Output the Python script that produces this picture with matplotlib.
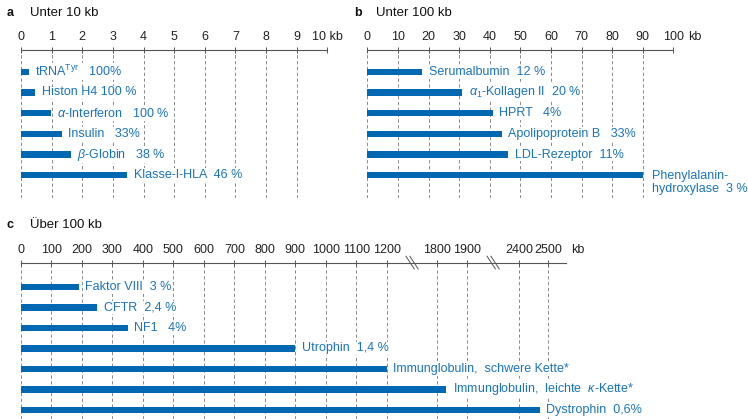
import numpy as np
import matplotlib
matplotlib.use('Agg')
import matplotlib.pyplot as plt
from matplotlib.transforms import Affine2D, ScaledTranslation
from matplotlib.lines import Line2D

plt.rcParams['font.family'] = ['Liberation Sans', 'DejaVu Sans']
plt.rcParams['mathtext.fontset'] = 'custom'
plt.rcParams['mathtext.rm'] = 'Liberation Sans'
plt.rcParams['mathtext.it'] = 'Liberation Sans:italic'
plt.rcParams['mathtext.bf'] = 'Liberation Sans:bold'

# Gene sizes in kb
labels_a = [r'tRNA$^{\mathrm{Tyr}}$   100%', 'Histon H4 100 %', r'$\alpha$-Interferon   100 %',
            'Insulin   33%', r'$\beta$-Globin   38 %', 'Klasse-I-HLA  46 %']
sizes_a = [0.25, 0.47, 0.97, 1.33, 1.63, 3.47]
ticks_a = list(range(0, 11))
ticklabels_a = [str(t) for t in ticks_a[:-1]] + ['10 kb']

labels_b = ['Serumalbumin  12 %', r'$\alpha_1$-Kollagen II  20 %', 'HPRT   4%',
            'Apolipoprotein B   33%', 'LDL-Rezeptor  11%', 'Phenylalanin-\nhydroxylase  3 %']
sizes_b = [18, 31, 41, 44, 46, 90]
ticks_b = list(range(0, 101, 10))

labels_c = ['Faktor VIII  3 %', 'CFTR  2,4 %', 'NF1   4%', 'Utrophin  1,4 %',
            'Immunglobulin,  schwere Kette*', r'Immunglobulin,  leichte  $\kappa$-Kette*',
            'Dystrophin  0,6%']
sizes_c = [190, 250, 350, 900, 1200, 1830, 2470]
ticks_c = list(range(0, 1201, 100)) + [1800, 1900, 2400, 2500]

# broken axis for panel c: kb -> axis position
knots_kb = [-1000, 0, 1200, 1800, 1900, 2400, 2500, 5000]
knots_pos = [-10, 0, 12, 13.66, 14.63, 16.35, 17.30, 42.30]


def fwd(x):
    return np.interp(x, knots_kb, knots_pos)


def inv(p):
    return np.interp(p, knots_pos, knots_kb)


BAR = '#0068b3'
TXT = '#1874bd'

fig = plt.figure(figsize=(7.48, 4.19), dpi=100)
W, H = 748, 419


def style(ax):
    ax.xaxis.set_ticks_position('top')
    for s in ['bottom', 'left', 'right']:
        ax.spines[s].set_visible(False)
    ax.spines['top'].set_color('#555555')
    ax.spines['top'].set_linewidth(0.8)
    ax.tick_params(axis='x', direction='inout', length=5, width=0.7, color='#555555',
                   pad=2.5, labelsize=9, labelcolor='#222222')
    ax.set_yticks([])
    ax.grid(axis='x', color='#777777', linestyle=(0, (4, 3)), linewidth=0.6)
    ax.set_axisbelow(True)
    ax.patch.set_visible(False)


def bars(ax, sizes, labels, height):
    pos = np.arange(len(sizes))
    ax.barh(pos, sizes, height=height, color=BAR)
    box = dict(facecolor='white', edgecolor='none', pad=0.6)
    for p, v, lab in zip(pos, sizes, labels):
        if '\n' in lab:
            ax.annotate(lab, (v, p), xytext=(6.5, 3.8), textcoords='offset points',
                        va='top', ha='left', fontsize=9, color=TXT, linespacing=1.1,
                        bbox=box, annotation_clip=False)
        else:
            ax.annotate(lab, (v, p), xytext=(4.7, 0), textcoords='offset points',
                        va='center', ha='left', fontsize=9, color=TXT, bbox=box,
                        annotation_clip=False)


# a: under 10 kb
ax_a = fig.add_axes([21 / W, 1 - 198 / H, 306.3 / W, 148 / H])
style(ax_a)
ax_a.set_xlim(0, 10)
ax_a.set_ylim(6.1, -1.05)
ax_a.set_xticks(ticks_a)
ax_a.set_xticklabels(ticklabels_a)
bars(ax_a, sizes_a, labels_a, 0.3)

# b: under 100 kb
ax_b = fig.add_axes([367.3 / W, 1 - 198 / H, 306 / W, 148 / H])
style(ax_b)
ax_b.set_xlim(0, 100)
ax_b.set_ylim(6.1, -1.05)
ax_b.set_xticks(ticks_b)
bars(ax_b, sizes_b, labels_b, 0.3)
ax_b.annotate('kb', (100, 1), xycoords=ax_b.get_xaxis_transform(), xytext=(11, 5),
              textcoords='offset points', ha='left', va='bottom', fontsize=9, color='#222222',
              annotation_clip=False)

# c: over 100 kb, broken axis
ax_c = fig.add_axes([21 / W, 0, 544.7 / W, 156.4 / H])
style(ax_c)
ax_c.set_xscale('function', functions=(fwd, inv))
ax_c.set_xlim(0, 2557)
ax_c.set_ylim(6.45, -1.2)
ax_c.set_xticks(ticks_c)
ax_c.set_xticklabels([str(t) for t in ticks_c])
bars(ax_c, sizes_c, labels_c, 0.32)
ax_c.annotate('kb', (1, 1), xycoords='axes fraction', xytext=(4, 5),
              textcoords='offset points', ha='left', va='bottom', fontsize=9, color='#222222')

# break marks on the axis line
for xb in (1500, 2150):
    for dx in (-1.4, 1.4):
        tr = (Affine2D().scale(1 / 72) + fig.dpi_scale_trans
              + ScaledTranslation(xb, 1.0, ax_c.get_xaxis_transform()))
        ax_c.add_line(Line2D([dx - 3, dx + 3], [4.6, -4.6], transform=tr,
                             color='#555555', linewidth=0.7, clip_on=False))

# panel titles
for x, y, letter, title in [(7, 13, 'a', 'Unter 10 kb'), (354, 13, 'b', 'Unter 100 kb'),
                            (7, 225, 'c', 'Über 100 kb')]:
    fig.text(x / W, 1 - y / H, letter, weight='bold', fontsize=9, va='center', color='#111111')
    fig.text((x + 22.5) / W, 1 - y / H, title, fontsize=9.5, va='center', color='#111111')

fig.savefig('out.png', dpi=100)
